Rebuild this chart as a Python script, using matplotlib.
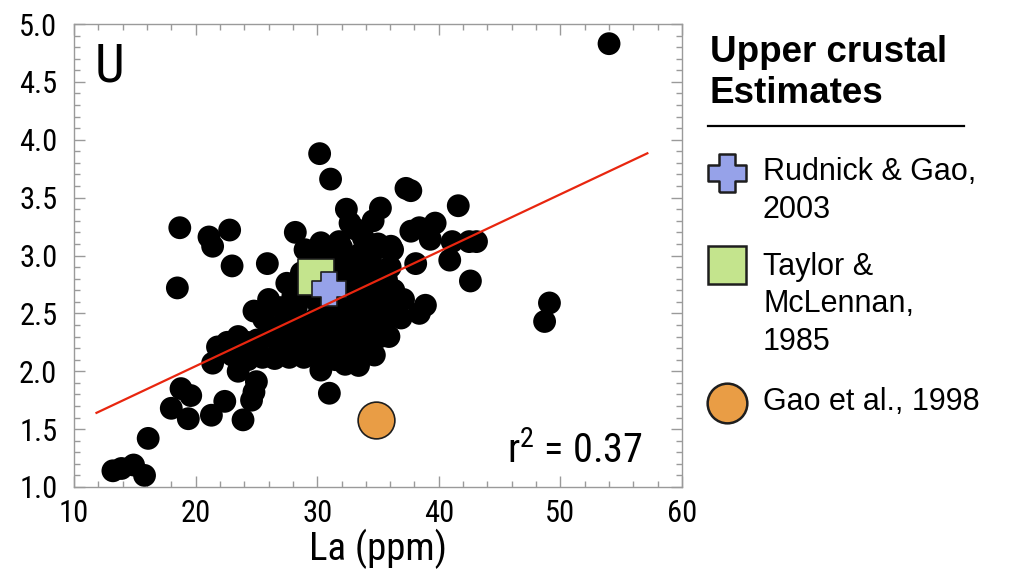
import matplotlib
matplotlib.use('Agg')
import matplotlib.pyplot as plt
from matplotlib import font_manager
from matplotlib.lines import Line2D
from matplotlib.path import Path

# La (ppm) and U (ppm) for the upper crustal samples
la = [54.0, 30.2, 31.1, 37.3, 37.7, 41.6, 32.4, 35.2, 32.7, 34.6,
      18.7, 22.8, 21.1, 21.4, 28.2, 23.0, 25.9, 18.5, 37.7, 38.4,
      39.7, 39.3, 41.1, 40.9, 42.5, 43.1, 38.1, 42.6, 49.1, 48.7,
      37.1, 38.9, 36.9, 38.4, 30.3, 29.0, 28.7, 24.8, 26.0, 35.9,
      34.7, 33.4, 30.3, 31.0, 26.5, 25.1, 24.3, 21.8, 21.4, 23.5,
      23.5, 25.0, 24.8, 24.6, 18.8, 19.6, 22.4, 18.0, 19.4, 21.3,
      23.9, 16.1, 13.2, 13.9, 14.9, 15.8,
      31.0, 32.0, 33.3, 35.4, 36.0, 27.5, 28.3, 25.05, 25.5, 27.2,
      28.6, 34.3, 35.2, 35.7, 34.9, 35.7,
      29.8, 31.4, 32.6, 33.6, 34.4, 35.0, 36.2, 33.8, 31.8,
      30.2, 31.5, 32.9, 34.0, 35.0, 36.3,
      29.2, 30.0, 31.2, 32.2, 33.2, 34.2, 35.3, 36.0,
      27.9, 29.0, 29.9, 30.8, 31.8, 32.8, 33.7, 34.6, 35.4,
      26.8, 27.5, 28.4, 29.4, 30.4, 31.3, 32.2, 33.1, 34.0, 34.8,
      26.0, 26.9, 29.8, 30.9, 31.9, 32.8, 33.8, 31.5, 32.3,
      22.6, 22.2, 23.0, 24.2, 25.6, 27.0, 28.0,
      33.5, 32.4, 31.0, 30.5, 31.8, 33.9, 32.3, 27.7, 28.9, 36.06]
u = [4.83, 3.88, 3.66, 3.58, 3.56, 3.43, 3.40, 3.41, 3.28, 3.30,
     3.24, 3.22, 3.16, 3.08, 3.20, 2.91, 2.93, 2.72, 3.21, 3.24,
     3.28, 3.14, 3.12, 2.96, 3.12, 3.12, 2.93, 2.78, 2.59, 2.43,
     2.62, 2.57, 2.46, 2.50, 3.11, 3.05, 2.85, 2.52, 2.62, 2.30,
     2.14, 2.05, 2.01, 1.81, 2.11, 2.16, 2.10, 2.21, 2.07, 2.00,
     2.30, 1.91, 1.82, 1.75, 1.85, 1.79, 1.74, 1.68, 1.59, 1.62,
     1.58, 1.42, 1.14, 1.16, 1.19, 1.10,
     3.05, 3.07, 3.22, 3.07, 2.90, 2.76, 2.56, 2.27, 2.12, 2.16,
     2.18, 2.16, 2.30, 2.53, 2.68, 2.79,
     2.95, 2.95, 2.98, 3.02, 2.95, 3.10, 3.05, 3.15, 3.12,
     2.85, 2.83, 2.85, 2.82, 2.86, 2.70,
     2.68, 2.60, 2.58, 2.66, 2.70, 2.60, 2.63, 2.55,
     2.45, 2.42, 2.46, 2.40, 2.45, 2.48, 2.42, 2.45, 2.40,
     2.38, 2.30, 2.32, 2.28, 2.30, 2.27, 2.32, 2.30, 2.28, 2.34,
     2.30, 2.22, 2.18, 2.17, 2.18, 2.15, 2.20, 2.10, 2.06,
     2.25, 2.18, 2.14, 2.25, 2.45, 2.55, 2.65,
     2.55, 2.55, 2.50, 2.70, 2.75, 2.90, 2.88, 2.12, 2.12, 3.08]

# published upper crust estimates
estimate_names = ['Rudnick & Gao,\n2003', 'Taylor &\nMcLennan,\n1985', 'Gao et al., 1998']
estimate_la = [31.0, 29.9, 34.8]
estimate_u = [2.71, 2.81, 1.58]

# least squares line through the samples
fit_slope = 0.0495
fit_intercept = 1.054
fit_range = [11.85, 57.15]
r_squared = 0.37

xticks = [10, 20, 30, 40, 50, 60]
yticks = [1.0, 1.5, 2.0, 2.5, 3.0, 3.5, 4.0, 4.5, 5.0]

# plus-shaped marker for Rudnick & Gao
a = 0.22
plus_marker = Path([(-a, -0.5), (a, -0.5), (a, -a), (0.5, -a), (0.5, a), (a, a), (a, 0.5),
                    (-a, 0.5), (-a, a), (-0.5, a), (-0.5, -a), (-a, -a), (-a, -0.5)])
estimate_markers = [plus_marker, 's', 'o']
estimate_colors = ['#96a2e9', '#c4e48d', '#e99d45']
estimate_sizes = [610, 640, 700]
estimate_order = [4, 3, 3]

names = {f.name for f in font_manager.fontManager.ttflist}
axis_font = 'Roboto Condensed' if 'Roboto Condensed' in names else 'Liberation Sans'
plt.rcParams['font.family'] = ['Liberation Sans', 'DejaVu Sans']
plt.rcParams['mathtext.fontset'] = 'custom'
plt.rcParams['mathtext.rm'] = axis_font

fig = plt.figure(figsize=(10.09, 5.73), dpi=100)
ax = fig.add_axes([74 / 1009, 86 / 573, 608 / 1009, 463 / 573])

ax.scatter(la, u, s=270, c='black', edgecolors='none', zorder=2)
for xv, yv, m, c, s, z in zip(estimate_la, estimate_u, estimate_markers,
                              estimate_colors, estimate_sizes, estimate_order):
    ax.scatter([xv], [yv], marker=m, s=s, c=c, edgecolors='#1e1e1e', linewidths=1.2, zorder=z)

fx = fit_range
fy = [fit_slope * v + fit_intercept for v in fx]
ax.plot(fx, fy, color='#e8260f', lw=1.6, zorder=5)

ax.set_xlim(10, 60)
ax.set_ylim(1.0, 5.0)
ax.set_xticks(xticks)
ax.set_yticks(yticks)
ax.set_xticks(range(10, 61, 2), minor=True)
ax.set_yticks([1.0 + 0.1 * i for i in range(41)], minor=True)
ax.set_xticklabels([str(t) for t in xticks], fontfamily=axis_font, fontsize=22)
ax.set_yticklabels([f'{t:.1f}' for t in yticks], fontfamily=axis_font, fontsize=22)
ax.tick_params(which='both', direction='in', top=True, right=True, color='#9a9a9a', width=1)
ax.tick_params(which='major', length=8)
ax.tick_params(which='minor', length=4)
ax.tick_params(axis='x', pad=9)
ax.tick_params(axis='y', pad=12)
for sp in ax.spines.values():
    sp.set_color('#9a9a9a')
    sp.set_linewidth(1)
ax.set_xlabel('La (ppm)', fontfamily=axis_font, fontsize=28, labelpad=0)

ax.text(0.034, 0.962, 'U', transform=ax.transAxes, fontfamily=axis_font, fontsize=38,
        ha='left', va='top')
ax.text(0.936, 0.052, f'r$^{{2}}$ = {r_squared:.2f}', transform=ax.transAxes,
        fontfamily=axis_font, fontsize=29, ha='right', va='baseline')

# legend panel on the right
W, H = 1009, 573
fig.text(710 / W, 1 - 62 / H, 'Upper crustal', fontsize=26.5, fontweight='bold', va='baseline')
fig.text(710 / W, 1 - 103 / H, 'Estimates', fontsize=26.5, fontweight='bold', va='baseline')
fig.add_artist(Line2D([708 / W, 964 / W], [1 - 126 / H, 1 - 126 / H], color='black', lw=1.6))

row_marker_y = [173, 265, 403]
row_text_y = [180, 275, 410]
line_step = 37.5
for name, m, c, s, my, ty in zip(estimate_names, estimate_markers, estimate_colors,
                                 estimate_sizes, row_marker_y, row_text_y):
    fig.add_artist(Line2D([727 / W], [1 - my / H], marker=m, markersize=(s ** 0.5) * 1.08,
                          markerfacecolor=c, markeredgecolor='#1e1e1e', markeredgewidth=1.8,
                          linestyle='none'))
    for i, line in enumerate(name.split('\n')):
        fig.text(763 / W, 1 - (ty + i * line_step) / H, line, fontsize=22, va='baseline')

fig.savefig('out.png', dpi=100)
